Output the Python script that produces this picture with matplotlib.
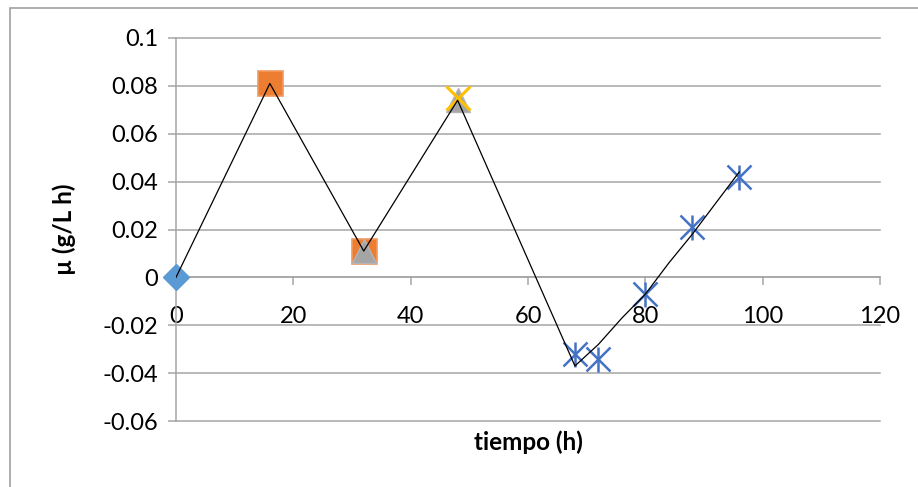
import matplotlib
matplotlib.use("Agg")
import matplotlib.pyplot as plt
from matplotlib.patches import Rectangle

# ---- data ----
t_diamond = [0]
mu_diamond = [0.0]

t_square = [16, 32]
mu_square = [0.081, 0.011]

t_triangle = [32, 48]
mu_triangle = [0.011, 0.074]

t_cross = [48]
mu_cross = [0.075]

t_star = [68, 72, 80, 88, 96]
mu_star = [-0.032, -0.034, -0.007, 0.021, 0.042]

t_line = [0, 16, 32, 48, 68, 72, 76, 80, 84, 88, 92, 96]
mu_line = [0.0, 0.081, 0.011, 0.074, -0.037, -0.028, -0.017, -0.007, 0.006, 0.018, 0.031, 0.044]

x_ticks = [0, 20, 40, 60, 80, 100, 120]
y_ticks = [-0.06, -0.04, -0.02, 0, 0.02, 0.04, 0.06, 0.08, 0.1]
y_tick_labels = ["-0.06", "-0.04", "-0.02", "0", "0.02", "0.04", "0.06", "0.08", "0.1"]

xlabel = "tiempo (h)"
ylabel = "µ (g/L h)"

# ---- figure ----
plt.rcParams['font.family'] = ['Lato', 'DejaVu Sans']
W, H = 918, 487
fig = plt.figure(figsize=(W / 100, H / 100), dpi=100)

# outer chart frame
fig.patches.append(Rectangle((10 / W, -0.05), 1.0, 1 - 8 / H + 0.05,
                             transform=fig.transFigure, fill=False,
                             edgecolor='#A0A0A0', linewidth=1.2))

ax = fig.add_axes([176 / W, 1 - 421 / H, 704 / W, 383 / H])
grid_c = '#A6A6A6'

ax.set_xlim(0, 120)
ax.set_ylim(-0.06, 0.1)

for y in y_ticks:
    ax.axhline(y, color=grid_c, lw=1.1, zorder=0, clip_on=False)

ax.spines['top'].set_visible(False)
ax.spines['right'].set_visible(False)
ax.spines['bottom'].set_position(('data', 0))
ax.spines['bottom'].set_color(grid_c)
ax.spines['left'].set_color(grid_c)
ax.spines['left'].set_linewidth(1.1)
ax.spines['bottom'].set_linewidth(1.1)

ax.set_xticks(x_ticks)
ax.set_xticklabels([str(v) for v in x_ticks])
ax.set_yticks(y_ticks)
ax.set_yticklabels(y_tick_labels)
ax.tick_params(axis='x', direction='out', length=5.8, width=1.1, color=grid_c,
               pad=15, labelsize=17)
ax.tick_params(axis='y', direction='out', length=5.8, width=1.1, color=grid_c,
               pad=7, labelsize=17)

# markers
ax.plot(t_diamond, mu_diamond, linestyle='none', marker='D', ms=13,
        color='#5B9BD5', mec='#5B9BD5', zorder=3, clip_on=False)
ax.plot(t_square, mu_square, linestyle='none', marker='s', ms=18,
        color='#ED7D31', mec='#F19A5E', mew=1.2, zorder=3)
ax.plot(t_triangle, mu_triangle, linestyle='none', marker='^', ms=17,
        color='#A5A5A5', mec='#B5B5B5', mew=1.0, zorder=4)
ax.plot(t_cross, mu_cross, linestyle='none', marker='x', ms=17,
        color='#FFC000', mew=2.2, zorder=5)
ax.plot(t_star, mu_star, linestyle='none', marker='x', ms=17,
        color='#4472C4', mew=1.8, zorder=5)
ax.plot(t_star, mu_star, linestyle='none', marker='|', ms=18,
        color='#4472C4', mew=1.8, zorder=5)

# black connecting line (on top)
ax.plot(t_line, mu_line, color='black', lw=0.9, zorder=6)

fig.text(528 / W, 1 - 442 / H, xlabel, ha='center', va='center',
         fontsize=17.5, fontweight='bold')
fig.text(64 / W, 1 - 229 / H, ylabel, ha='center', va='center',
         rotation=90, fontsize=17.5, fontweight='bold')

fig.savefig('out.png', dpi=100)
